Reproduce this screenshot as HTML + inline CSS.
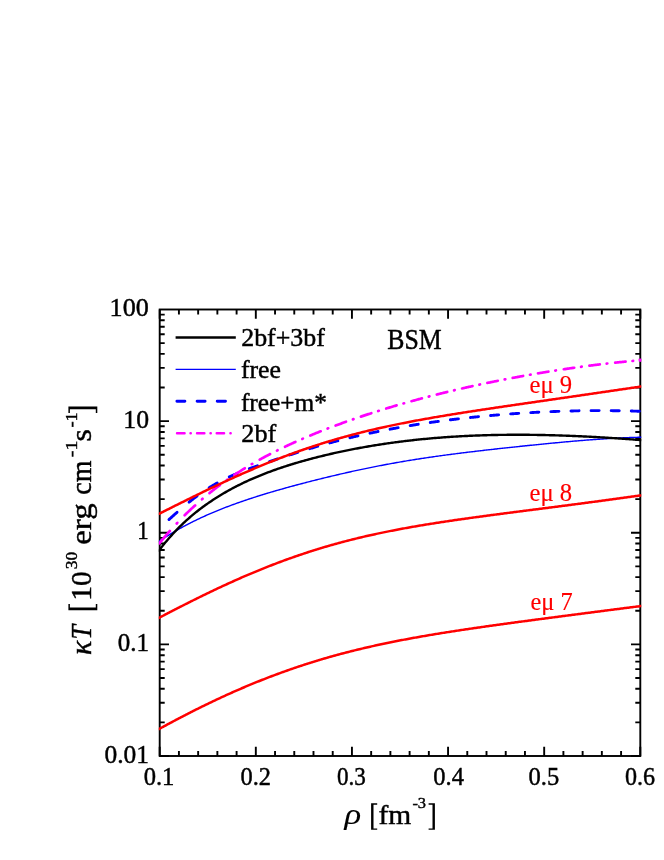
<!DOCTYPE html>
<html><head><meta charset="utf-8"><title>chart</title>
<style>html,body{margin:0;padding:0;background:#fff}svg{display:block;will-change:transform}</style></head>
<body>
<svg width="664" height="860" viewBox="0 0 664 860" font-family="Liberation Serif, serif">
<rect width="664" height="860" fill="#fff"/>
<rect x="159.7" y="309.5" width="480.59999999999997" height="446.5" fill="none" stroke="#000" stroke-width="1.9"/>
<path d="M159.70,756.0v-9.3M159.70,309.5v9.3M178.92,756.0v-5.0M178.92,309.5v5.0M198.15,756.0v-5.0M198.15,309.5v5.0M217.37,756.0v-5.0M217.37,309.5v5.0M236.60,756.0v-5.0M236.60,309.5v5.0M255.82,756.0v-9.3M255.82,309.5v9.3M275.04,756.0v-5.0M275.04,309.5v5.0M294.27,756.0v-5.0M294.27,309.5v5.0M313.49,756.0v-5.0M313.49,309.5v5.0M332.72,756.0v-5.0M332.72,309.5v5.0M351.94,756.0v-9.3M351.94,309.5v9.3M371.16,756.0v-5.0M371.16,309.5v5.0M390.39,756.0v-5.0M390.39,309.5v5.0M409.61,756.0v-5.0M409.61,309.5v5.0M428.84,756.0v-5.0M428.84,309.5v5.0M448.06,756.0v-9.3M448.06,309.5v9.3M467.28,756.0v-5.0M467.28,309.5v5.0M486.51,756.0v-5.0M486.51,309.5v5.0M505.73,756.0v-5.0M505.73,309.5v5.0M524.96,756.0v-5.0M524.96,309.5v5.0M544.18,756.0v-9.3M544.18,309.5v9.3M563.40,756.0v-5.0M563.40,309.5v5.0M582.63,756.0v-5.0M582.63,309.5v5.0M601.85,756.0v-5.0M601.85,309.5v5.0M621.08,756.0v-5.0M621.08,309.5v5.0M640.30,756.0v-9.3M640.30,309.5v9.3M159.7,756.00h9.3M640.3,756.00h-9.3M159.7,722.40h5.0M640.3,722.40h-5.0M159.7,702.74h5.0M640.3,702.74h-5.0M159.7,688.80h5.0M640.3,688.80h-5.0M159.7,677.98h5.0M640.3,677.98h-5.0M159.7,669.14h5.0M640.3,669.14h-5.0M159.7,661.67h5.0M640.3,661.67h-5.0M159.7,655.19h5.0M640.3,655.19h-5.0M159.7,649.48h5.0M640.3,649.48h-5.0M159.7,644.38h9.3M640.3,644.38h-9.3M159.7,610.77h5.0M640.3,610.77h-5.0M159.7,591.12h5.0M640.3,591.12h-5.0M159.7,577.17h5.0M640.3,577.17h-5.0M159.7,566.35h5.0M640.3,566.35h-5.0M159.7,557.51h5.0M640.3,557.51h-5.0M159.7,550.04h5.0M640.3,550.04h-5.0M159.7,543.57h5.0M640.3,543.57h-5.0M159.7,537.86h5.0M640.3,537.86h-5.0M159.7,532.75h9.3M640.3,532.75h-9.3M159.7,499.15h5.0M640.3,499.15h-5.0M159.7,479.49h5.0M640.3,479.49h-5.0M159.7,465.55h5.0M640.3,465.55h-5.0M159.7,454.73h5.0M640.3,454.73h-5.0M159.7,445.89h5.0M640.3,445.89h-5.0M159.7,438.42h5.0M640.3,438.42h-5.0M159.7,431.94h5.0M640.3,431.94h-5.0M159.7,426.23h5.0M640.3,426.23h-5.0M159.7,421.12h9.3M640.3,421.12h-9.3M159.7,387.52h5.0M640.3,387.52h-5.0M159.7,367.87h5.0M640.3,367.87h-5.0M159.7,353.92h5.0M640.3,353.92h-5.0M159.7,343.10h5.0M640.3,343.10h-5.0M159.7,334.26h5.0M640.3,334.26h-5.0M159.7,326.79h5.0M640.3,326.79h-5.0M159.7,320.32h5.0M640.3,320.32h-5.0M159.7,314.61h5.0M640.3,314.61h-5.0" stroke="#000" stroke-width="1.9" fill="none"/>
<clipPath id="c"><rect x="158.79999999999998" y="309.5" width="482.49999999999994" height="446.5"/></clipPath>
<g clip-path="url(#c)">
<path d="M158.20,541.92 L159.41,541.10 L160.62,540.29 L161.84,539.49 L163.05,538.70 L164.26,537.91 L165.47,537.14 L166.68,536.37 L167.90,535.61 L169.11,534.86 L170.32,534.12 L171.53,533.39 L172.74,532.67 L173.96,531.95 L175.17,531.24 L176.38,530.54 L177.59,529.84 L178.80,529.16 L180.02,528.48 L181.23,527.81 L182.44,527.14 L183.65,526.49 L184.86,525.84 L186.08,525.19 L187.29,524.56 L188.50,523.93 L189.71,523.30 L190.92,522.69 L192.14,522.08 L193.35,521.47 L194.56,520.87 L195.77,520.28 L196.98,519.70 L198.20,519.12 L199.41,518.54 L200.62,517.97 L201.83,517.41 L203.05,516.85 L204.26,516.30 L205.47,515.76 L206.68,515.22 L207.89,514.68 L209.11,514.15 L210.32,513.62 L211.53,513.10 L212.74,512.59 L213.95,512.08 L215.17,511.57 L216.38,511.07 L217.59,510.57 L218.80,510.08 L220.01,509.59 L221.23,509.11 L222.44,508.63 L223.65,508.15 L224.86,507.68 L226.07,507.22 L227.29,506.75 L228.50,506.29 L229.71,505.84 L230.92,505.39 L232.13,504.94 L233.35,504.49 L234.56,504.05 L235.77,503.62 L236.98,503.18 L238.19,502.75 L239.41,502.33 L240.62,501.90 L241.83,501.48 L243.04,501.06 L244.25,500.65 L245.47,500.24 L246.68,499.83 L247.89,499.42 L249.10,499.02 L250.31,498.62 L251.53,498.22 L252.74,497.83 L253.95,497.44 L255.16,497.05 L256.37,496.66 L257.59,496.28 L258.80,495.90 L260.01,495.52 L261.22,495.14 L262.43,494.77 L263.65,494.39 L264.86,494.02 L266.07,493.65 L267.28,493.29 L268.49,492.92 L269.71,492.56 L270.92,492.20 L272.13,491.85 L273.34,491.49 L274.55,491.14 L275.77,490.78 L276.98,490.43 L278.19,490.08 L279.40,489.74 L280.62,489.39 L281.83,489.05 L283.04,488.71 L284.25,488.37 L285.46,488.03 L286.68,487.69 L287.89,487.36 L289.10,487.02 L290.31,486.69 L291.52,486.36 L292.74,486.03 L293.95,485.70 L295.16,485.38 L296.37,485.05 L297.58,484.73 L298.80,484.41 L300.01,484.08 L301.22,483.76 L302.43,483.45 L303.64,483.13 L304.86,482.81 L306.07,482.50 L307.28,482.19 L308.49,481.87 L309.70,481.56 L310.92,481.25 L312.13,480.94 L313.34,480.64 L314.55,480.33 L315.76,480.03 L316.98,479.72 L318.19,479.42 L319.40,479.12 L320.61,478.82 L321.82,478.52 L323.04,478.22 L324.25,477.92 L325.46,477.63 L326.67,477.34 L327.88,477.04 L329.10,476.75 L330.31,476.46 L331.52,476.17 L332.73,475.88 L333.94,475.59 L335.16,475.31 L336.37,475.02 L337.58,474.74 L338.79,474.46 L340.00,474.18 L341.22,473.90 L342.43,473.62 L343.64,473.34 L344.85,473.07 L346.06,472.79 L347.28,472.52 L348.49,472.25 L349.70,471.97 L350.91,471.71 L352.12,471.44 L353.34,471.17 L354.55,470.91 L355.76,470.64 L356.97,470.38 L358.18,470.12 L359.40,469.86 L360.61,469.60 L361.82,469.35 L363.03,469.09 L364.25,468.84 L365.46,468.58 L366.67,468.33 L367.88,468.08 L369.09,467.84 L370.31,467.59 L371.52,467.34 L372.73,467.10 L373.94,466.86 L375.15,466.62 L376.37,466.38 L377.58,466.14 L378.79,465.91 L380.00,465.67 L381.21,465.44 L382.43,465.21 L383.64,464.98 L384.85,464.75 L386.06,464.52 L387.27,464.29 L388.49,464.07 L389.70,463.85 L390.91,463.63 L392.12,463.41 L393.33,463.19 L394.55,462.97 L395.76,462.76 L396.97,462.54 L398.18,462.33 L399.39,462.12 L400.61,461.91 L401.82,461.70 L403.03,461.49 L404.24,461.29 L405.45,461.09 L406.67,460.88 L407.88,460.68 L409.09,460.48 L410.30,460.28 L411.51,460.09 L412.73,459.89 L413.94,459.70 L415.15,459.51 L416.36,459.31 L417.57,459.12 L418.79,458.94 L420.00,458.75 L421.21,458.56 L422.42,458.38 L423.63,458.19 L424.85,458.01 L426.06,457.83 L427.27,457.65 L428.48,457.47 L429.69,457.29 L430.91,457.12 L432.12,456.94 L433.33,456.77 L434.54,456.60 L435.75,456.42 L436.97,456.25 L438.18,456.09 L439.39,455.92 L440.60,455.75 L441.82,455.58 L443.03,455.42 L444.24,455.25 L445.45,455.09 L446.66,454.93 L447.88,454.77 L449.09,454.61 L450.30,454.45 L451.51,454.29 L452.72,454.13 L453.94,453.97 L455.15,453.82 L456.36,453.66 L457.57,453.51 L458.78,453.36 L460.00,453.20 L461.21,453.05 L462.42,452.90 L463.63,452.75 L464.84,452.60 L466.06,452.45 L467.27,452.30 L468.48,452.16 L469.69,452.01 L470.90,451.86 L472.12,451.72 L473.33,451.57 L474.54,451.43 L475.75,451.28 L476.96,451.14 L478.18,451.00 L479.39,450.86 L480.60,450.72 L481.81,450.58 L483.02,450.44 L484.24,450.30 L485.45,450.16 L486.66,450.02 L487.87,449.88 L489.08,449.74 L490.30,449.61 L491.51,449.47 L492.72,449.33 L493.93,449.20 L495.14,449.06 L496.36,448.93 L497.57,448.80 L498.78,448.66 L499.99,448.53 L501.20,448.40 L502.42,448.26 L503.63,448.13 L504.84,448.00 L506.05,447.87 L507.26,447.74 L508.48,447.61 L509.69,447.48 L510.90,447.35 L512.11,447.22 L513.32,447.09 L514.54,446.96 L515.75,446.83 L516.96,446.70 L518.17,446.58 L519.38,446.45 L520.60,446.32 L521.81,446.20 L523.02,446.07 L524.23,445.95 L525.45,445.82 L526.66,445.70 L527.87,445.57 L529.08,445.45 L530.29,445.32 L531.51,445.20 L532.72,445.08 L533.93,444.95 L535.14,444.83 L536.35,444.71 L537.57,444.59 L538.78,444.47 L539.99,444.35 L541.20,444.23 L542.41,444.11 L543.63,443.99 L544.84,443.87 L546.05,443.75 L547.26,443.63 L548.47,443.51 L549.69,443.40 L550.90,443.28 L552.11,443.16 L553.32,443.05 L554.53,442.93 L555.75,442.82 L556.96,442.70 L558.17,442.59 L559.38,442.48 L560.59,442.37 L561.81,442.25 L563.02,442.14 L564.23,442.03 L565.44,441.92 L566.65,441.81 L567.87,441.70 L569.08,441.60 L570.29,441.49 L571.50,441.38 L572.71,441.28 L573.93,441.17 L575.14,441.07 L576.35,440.96 L577.56,440.86 L578.77,440.76 L579.99,440.66 L581.20,440.56 L582.41,440.46 L583.62,440.36 L584.83,440.26 L586.05,440.17 L587.26,440.07 L588.47,439.98 L589.68,439.88 L590.89,439.79 L592.11,439.70 L593.32,439.61 L594.53,439.52 L595.74,439.43 L596.95,439.35 L598.17,439.26 L599.38,439.18 L600.59,439.09 L601.80,439.01 L603.02,438.93 L604.23,438.85 L605.44,438.77 L606.65,438.70 L607.86,438.62 L609.08,438.55 L610.29,438.48 L611.50,438.41 L612.71,438.34 L613.92,438.27 L615.14,438.20 L616.35,438.14 L617.56,438.08 L618.77,438.02 L619.98,437.96 L621.20,437.90 L622.41,437.85 L623.62,437.79 L624.83,437.74 L626.04,437.69 L627.26,437.65 L628.47,437.60 L629.68,437.56 L630.89,437.52 L632.10,437.48 L633.32,437.44 L634.53,437.40 L635.74,437.37 L636.95,437.34 L638.16,437.31 L639.38,437.29 L640.59,437.26 L641.80,437.24" fill="none" stroke="#0000ff" stroke-width="1.4" stroke-linejoin="round"/>
<path d="M158.20,551.63 L159.41,550.02 L160.62,548.43 L161.84,546.87 L163.05,545.34 L164.26,543.84 L165.47,542.36 L166.68,540.91 L167.90,539.48 L169.11,538.08 L170.32,536.70 L171.53,535.34 L172.74,534.01 L173.96,532.70 L175.17,531.41 L176.38,530.14 L177.59,528.90 L178.80,527.67 L180.02,526.46 L181.23,525.28 L182.44,524.11 L183.65,522.96 L184.86,521.83 L186.08,520.72 L187.29,519.62 L188.50,518.55 L189.71,517.49 L190.92,516.44 L192.14,515.42 L193.35,514.40 L194.56,513.41 L195.77,512.42 L196.98,511.46 L198.20,510.50 L199.41,509.57 L200.62,508.64 L201.83,507.73 L203.05,506.83 L204.26,505.95 L205.47,505.07 L206.68,504.21 L207.89,503.36 L209.11,502.53 L210.32,501.70 L211.53,500.89 L212.74,500.08 L213.95,499.29 L215.17,498.51 L216.38,497.74 L217.59,496.98 L218.80,496.23 L220.01,495.48 L221.23,494.75 L222.44,494.03 L223.65,493.32 L224.86,492.61 L226.07,491.91 L227.29,491.23 L228.50,490.55 L229.71,489.88 L230.92,489.22 L232.13,488.56 L233.35,487.92 L234.56,487.28 L235.77,486.65 L236.98,486.03 L238.19,485.42 L239.41,484.81 L240.62,484.21 L241.83,483.62 L243.04,483.03 L244.25,482.46 L245.47,481.88 L246.68,481.32 L247.89,480.76 L249.10,480.21 L250.31,479.67 L251.53,479.13 L252.74,478.60 L253.95,478.07 L255.16,477.55 L256.37,477.04 L257.59,476.53 L258.80,476.03 L260.01,475.53 L261.22,475.04 L262.43,474.56 L263.65,474.08 L264.86,473.61 L266.07,473.14 L267.28,472.67 L268.49,472.22 L269.71,471.76 L270.92,471.31 L272.13,470.87 L273.34,470.43 L274.55,470.00 L275.77,469.57 L276.98,469.14 L278.19,468.72 L279.40,468.31 L280.62,467.90 L281.83,467.49 L283.04,467.09 L284.25,466.69 L285.46,466.29 L286.68,465.90 L287.89,465.51 L289.10,465.13 L290.31,464.75 L291.52,464.37 L292.74,464.00 L293.95,463.63 L295.16,463.27 L296.37,462.91 L297.58,462.55 L298.80,462.20 L300.01,461.85 L301.22,461.50 L302.43,461.15 L303.64,460.81 L304.86,460.47 L306.07,460.14 L307.28,459.81 L308.49,459.48 L309.70,459.15 L310.92,458.83 L312.13,458.51 L313.34,458.19 L314.55,457.88 L315.76,457.56 L316.98,457.26 L318.19,456.95 L319.40,456.65 L320.61,456.35 L321.82,456.05 L323.04,455.75 L324.25,455.46 L325.46,455.17 L326.67,454.88 L327.88,454.59 L329.10,454.31 L330.31,454.03 L331.52,453.75 L332.73,453.48 L333.94,453.20 L335.16,452.93 L336.37,452.67 L337.58,452.40 L338.79,452.14 L340.00,451.87 L341.22,451.62 L342.43,451.36 L343.64,451.11 L344.85,450.85 L346.06,450.60 L347.28,450.36 L348.49,450.11 L349.70,449.87 L350.91,449.63 L352.12,449.39 L353.34,449.15 L354.55,448.92 L355.76,448.69 L356.97,448.46 L358.18,448.23 L359.40,448.01 L360.61,447.78 L361.82,447.56 L363.03,447.35 L364.25,447.13 L365.46,446.92 L366.67,446.70 L367.88,446.50 L369.09,446.29 L370.31,446.08 L371.52,445.88 L372.73,445.68 L373.94,445.48 L375.15,445.28 L376.37,445.09 L377.58,444.90 L378.79,444.71 L380.00,444.52 L381.21,444.33 L382.43,444.15 L383.64,443.96 L384.85,443.78 L386.06,443.61 L387.27,443.43 L388.49,443.26 L389.70,443.08 L390.91,442.91 L392.12,442.75 L393.33,442.58 L394.55,442.42 L395.76,442.25 L396.97,442.09 L398.18,441.94 L399.39,441.78 L400.61,441.63 L401.82,441.47 L403.03,441.32 L404.24,441.18 L405.45,441.03 L406.67,440.88 L407.88,440.74 L409.09,440.60 L410.30,440.46 L411.51,440.33 L412.73,440.19 L413.94,440.06 L415.15,439.93 L416.36,439.80 L417.57,439.67 L418.79,439.54 L420.00,439.42 L421.21,439.30 L422.42,439.18 L423.63,439.06 L424.85,438.94 L426.06,438.83 L427.27,438.71 L428.48,438.60 L429.69,438.49 L430.91,438.38 L432.12,438.28 L433.33,438.17 L434.54,438.07 L435.75,437.97 L436.97,437.87 L438.18,437.77 L439.39,437.68 L440.60,437.58 L441.82,437.49 L443.03,437.40 L444.24,437.31 L445.45,437.22 L446.66,437.14 L447.88,437.05 L449.09,436.97 L450.30,436.89 L451.51,436.81 L452.72,436.73 L453.94,436.66 L455.15,436.58 L456.36,436.51 L457.57,436.44 L458.78,436.37 L460.00,436.30 L461.21,436.24 L462.42,436.17 L463.63,436.11 L464.84,436.05 L466.06,435.99 L467.27,435.93 L468.48,435.87 L469.69,435.82 L470.90,435.76 L472.12,435.71 L473.33,435.66 L474.54,435.61 L475.75,435.56 L476.96,435.51 L478.18,435.47 L479.39,435.43 L480.60,435.38 L481.81,435.34 L483.02,435.30 L484.24,435.27 L485.45,435.23 L486.66,435.19 L487.87,435.16 L489.08,435.13 L490.30,435.10 L491.51,435.07 L492.72,435.04 L493.93,435.02 L495.14,434.99 L496.36,434.97 L497.57,434.94 L498.78,434.92 L499.99,434.90 L501.20,434.89 L502.42,434.87 L503.63,434.85 L504.84,434.84 L506.05,434.83 L507.26,434.81 L508.48,434.80 L509.69,434.79 L510.90,434.79 L512.11,434.78 L513.32,434.77 L514.54,434.77 L515.75,434.77 L516.96,434.77 L518.17,434.77 L519.38,434.77 L520.60,434.77 L521.81,434.77 L523.02,434.78 L524.23,434.78 L525.45,434.79 L526.66,434.80 L527.87,434.81 L529.08,434.82 L530.29,434.83 L531.51,434.85 L532.72,434.86 L533.93,434.87 L535.14,434.89 L536.35,434.91 L537.57,434.93 L538.78,434.95 L539.99,434.97 L541.20,434.99 L542.41,435.02 L543.63,435.04 L544.84,435.07 L546.05,435.09 L547.26,435.12 L548.47,435.15 L549.69,435.18 L550.90,435.21 L552.11,435.24 L553.32,435.28 L554.53,435.31 L555.75,435.35 L556.96,435.38 L558.17,435.42 L559.38,435.46 L560.59,435.50 L561.81,435.54 L563.02,435.58 L564.23,435.62 L565.44,435.67 L566.65,435.71 L567.87,435.76 L569.08,435.80 L570.29,435.85 L571.50,435.90 L572.71,435.95 L573.93,436.00 L575.14,436.05 L576.35,436.10 L577.56,436.15 L578.77,436.21 L579.99,436.26 L581.20,436.32 L582.41,436.38 L583.62,436.43 L584.83,436.49 L586.05,436.55 L587.26,436.61 L588.47,436.67 L589.68,436.74 L590.89,436.80 L592.11,436.86 L593.32,436.93 L594.53,436.99 L595.74,437.06 L596.95,437.13 L598.17,437.20 L599.38,437.27 L600.59,437.34 L601.80,437.41 L603.02,437.48 L604.23,437.55 L605.44,437.62 L606.65,437.70 L607.86,437.77 L609.08,437.85 L610.29,437.92 L611.50,438.00 L612.71,438.08 L613.92,438.16 L615.14,438.24 L616.35,438.32 L617.56,438.40 L618.77,438.48 L619.98,438.56 L621.20,438.64 L622.41,438.73 L623.62,438.81 L624.83,438.90 L626.04,438.98 L627.26,439.07 L628.47,439.16 L629.68,439.24 L630.89,439.33 L632.10,439.42 L633.32,439.51 L634.53,439.60 L635.74,439.69 L636.95,439.79 L638.16,439.88 L639.38,439.97 L640.59,440.07 L641.80,440.16" fill="none" stroke="#000" stroke-width="2.4" stroke-linejoin="round"/>
<path d="M168.96,519.56 L169.69,518.89 L170.43,518.23 L171.16,517.56 L171.90,516.90 L172.63,516.24 L173.37,515.58 L174.10,514.92 L174.84,514.27 L175.57,513.62 L176.31,512.96 L177.04,512.32" fill="none" stroke="#0000ff" stroke-width="2.9" stroke-linecap="round"/>
<path d="M189.06,502.16 L189.79,501.57 L190.53,500.99 L191.26,500.41 L192.00,499.83 L192.73,499.26 L193.47,498.70 L194.20,498.13 L194.94,497.58 L195.67,497.02 L196.41,496.48 L197.14,495.93" fill="none" stroke="#0000ff" stroke-width="2.9" stroke-linecap="round"/>
<path d="M209.16,487.73 L209.89,487.27 L210.63,486.82 L211.36,486.37 L212.10,485.93 L212.83,485.49 L213.57,485.06 L214.30,484.63 L215.04,484.20 L215.77,483.78 L216.51,483.37 L217.24,482.96" fill="none" stroke="#0000ff" stroke-width="2.9" stroke-linecap="round"/>
<path d="M229.26,476.89 L229.99,476.56 L230.73,476.23 L231.46,475.90 L232.20,475.57 L232.93,475.25 L233.67,474.93 L234.40,474.62 L235.14,474.31 L235.87,474.00 L236.61,473.69 L237.34,473.39" fill="none" stroke="#0000ff" stroke-width="2.9" stroke-linecap="round"/>
<path d="M249.36,468.73 L250.09,468.46 L250.83,468.19 L251.56,467.93 L252.30,467.66 L253.03,467.39 L253.77,467.13 L254.50,466.87 L255.24,466.61 L255.97,466.35 L256.71,466.09 L257.44,465.83" fill="none" stroke="#0000ff" stroke-width="2.9" stroke-linecap="round"/>
<path d="M269.46,461.68 L270.19,461.43 L270.93,461.18 L271.66,460.93 L272.40,460.68 L273.13,460.43 L273.87,460.19 L274.60,459.94 L275.34,459.69 L276.07,459.44 L276.81,459.20 L277.54,458.95" fill="none" stroke="#0000ff" stroke-width="2.9" stroke-linecap="round"/>
<path d="M289.56,454.97 L290.29,454.73 L291.03,454.50 L291.76,454.26 L292.50,454.02 L293.23,453.78 L293.97,453.55 L294.70,453.31 L295.44,453.08 L296.17,452.84 L296.91,452.61 L297.64,452.38" fill="none" stroke="#0000ff" stroke-width="2.9" stroke-linecap="round"/>
<path d="M309.66,448.66 L310.39,448.44 L311.13,448.22 L311.86,448.00 L312.60,447.78 L313.33,447.56 L314.07,447.34 L314.80,447.13 L315.54,446.91 L316.27,446.70 L317.01,446.48 L317.74,446.27" fill="none" stroke="#0000ff" stroke-width="2.9" stroke-linecap="round"/>
<path d="M329.76,442.90 L330.49,442.70 L331.23,442.50 L331.96,442.30 L332.70,442.11 L333.43,441.91 L334.17,441.72 L334.90,441.52 L335.64,441.33 L336.37,441.14 L337.11,440.95 L337.84,440.76" fill="none" stroke="#0000ff" stroke-width="2.9" stroke-linecap="round"/>
<path d="M349.86,437.75 L350.59,437.58 L351.33,437.40 L352.06,437.22 L352.80,437.05 L353.53,436.88 L354.27,436.70 L355.00,436.53 L355.74,436.36 L356.47,436.19 L357.21,436.02 L357.94,435.85" fill="none" stroke="#0000ff" stroke-width="2.9" stroke-linecap="round"/>
<path d="M369.96,433.19 L370.69,433.03 L371.43,432.88 L372.16,432.72 L372.90,432.57 L373.63,432.42 L374.37,432.26 L375.10,432.11 L375.84,431.96 L376.57,431.81 L377.31,431.66 L378.04,431.51" fill="none" stroke="#0000ff" stroke-width="2.9" stroke-linecap="round"/>
<path d="M390.06,429.16 L390.79,429.02 L391.53,428.88 L392.26,428.75 L393.00,428.61 L393.73,428.48 L394.47,428.34 L395.20,428.21 L395.94,428.07 L396.67,427.94 L397.41,427.81 L398.14,427.68" fill="none" stroke="#0000ff" stroke-width="2.9" stroke-linecap="round"/>
<path d="M410.16,425.61 L410.89,425.49 L411.63,425.37 L412.36,425.25 L413.10,425.13 L413.83,425.01 L414.57,424.89 L415.30,424.78 L416.04,424.66 L416.77,424.54 L417.51,424.43 L418.24,424.31" fill="none" stroke="#0000ff" stroke-width="2.9" stroke-linecap="round"/>
<path d="M430.26,422.51 L430.99,422.40 L431.73,422.30 L432.46,422.19 L433.20,422.09 L433.93,421.99 L434.67,421.88 L435.40,421.78 L436.14,421.68 L436.87,421.58 L437.61,421.48 L438.34,421.38" fill="none" stroke="#0000ff" stroke-width="2.9" stroke-linecap="round"/>
<path d="M450.36,419.81 L451.09,419.72 L451.83,419.63 L452.56,419.54 L453.30,419.45 L454.03,419.36 L454.77,419.27 L455.50,419.19 L456.24,419.10 L456.97,419.01 L457.71,418.92 L458.44,418.84" fill="none" stroke="#0000ff" stroke-width="2.9" stroke-linecap="round"/>
<path d="M470.46,417.50 L471.19,417.42 L471.93,417.34 L472.66,417.27 L473.40,417.19 L474.13,417.11 L474.87,417.04 L475.60,416.96 L476.34,416.89 L477.07,416.82 L477.81,416.74 L478.54,416.67" fill="none" stroke="#0000ff" stroke-width="2.9" stroke-linecap="round"/>
<path d="M490.56,415.54 L491.29,415.47 L492.03,415.41 L492.76,415.35 L493.50,415.28 L494.23,415.22 L494.97,415.16 L495.70,415.09 L496.44,415.03 L497.17,414.97 L497.91,414.91 L498.64,414.85" fill="none" stroke="#0000ff" stroke-width="2.9" stroke-linecap="round"/>
<path d="M510.66,413.92 L511.39,413.87 L512.13,413.81 L512.86,413.76 L513.60,413.71 L514.33,413.66 L515.07,413.61 L515.80,413.56 L516.54,413.51 L517.27,413.46 L518.01,413.41 L518.74,413.36" fill="none" stroke="#0000ff" stroke-width="2.9" stroke-linecap="round"/>
<path d="M530.76,412.62 L531.49,412.58 L532.23,412.54 L532.96,412.50 L533.70,412.46 L534.43,412.42 L535.17,412.38 L535.90,412.34 L536.64,412.31 L537.37,412.27 L538.11,412.23 L538.84,412.19" fill="none" stroke="#0000ff" stroke-width="2.9" stroke-linecap="round"/>
<path d="M550.86,411.65 L551.59,411.62 L552.33,411.59 L553.06,411.56 L553.80,411.53 L554.53,411.51 L555.27,411.48 L556.00,411.45 L556.74,411.42 L557.47,411.40 L558.21,411.37 L558.94,411.35" fill="none" stroke="#0000ff" stroke-width="2.9" stroke-linecap="round"/>
<path d="M570.96,410.99 L571.69,410.98 L572.43,410.96 L573.16,410.94 L573.90,410.92 L574.63,410.91 L575.37,410.89 L576.10,410.88 L576.84,410.86 L577.57,410.85 L578.31,410.83 L579.04,410.82" fill="none" stroke="#0000ff" stroke-width="2.9" stroke-linecap="round"/>
<path d="M591.06,410.66 L591.79,410.66 L592.53,410.65 L593.26,410.65 L594.00,410.64 L594.73,410.64 L595.47,410.63 L596.20,410.63 L596.94,410.63 L597.67,410.63 L598.41,410.62 L599.14,410.62" fill="none" stroke="#0000ff" stroke-width="2.9" stroke-linecap="round"/>
<path d="M611.16,410.67 L611.89,410.67 L612.63,410.68 L613.36,410.69 L614.10,410.70 L614.83,410.70 L615.57,410.71 L616.30,410.72 L617.04,410.73 L617.77,410.74 L618.51,410.75 L619.24,410.77" fill="none" stroke="#0000ff" stroke-width="2.9" stroke-linecap="round"/>
<path d="M631.26,411.02 L631.99,411.04 L632.73,411.06 L633.46,411.08 L634.20,411.11 L634.93,411.13 L635.67,411.15 L636.40,411.17 L637.14,411.20 L637.87,411.22 L638.61,411.24 L639.34,411.27" fill="none" stroke="#0000ff" stroke-width="2.9" stroke-linecap="round"/>
<path d="M159.38,543.29 L160.13,542.37 L160.87,541.46 L161.62,540.56 L162.36,539.66 L163.11,538.77 L163.85,537.88 L164.60,537.00 L165.35,536.12 L166.09,535.25 L166.84,534.39 L167.58,533.53 L168.33,532.68 L169.07,531.83 L169.82,530.99" fill="none" stroke="#ff00ff" stroke-width="2.7" stroke-linecap="round"/>
<path d="M176.68,523.49 L177.32,522.81" fill="none" stroke="#ff00ff" stroke-width="2.7" stroke-linecap="round"/>
<path d="M184.68,515.28 L185.43,514.55 L186.17,513.81 L186.92,513.09 L187.66,512.37 L188.41,511.65 L189.15,510.93 L189.90,510.22 L190.65,509.52 L191.39,508.82 L192.14,508.12 L192.88,507.43 L193.63,506.75 L194.37,506.06 L195.12,505.39" fill="none" stroke="#ff00ff" stroke-width="2.7" stroke-linecap="round"/>
<path d="M201.98,499.34 L202.62,498.79" fill="none" stroke="#ff00ff" stroke-width="2.7" stroke-linecap="round"/>
<path d="M209.48,493.11 L210.23,492.51 L210.97,491.92 L211.72,491.33 L212.46,490.74 L213.21,490.16 L213.95,489.58 L214.70,489.00 L215.45,488.43 L216.19,487.86 L216.94,487.29 L217.68,486.72 L218.43,486.16 L219.17,485.61 L219.92,485.05" fill="none" stroke="#ff00ff" stroke-width="2.7" stroke-linecap="round"/>
<path d="M226.78,480.11 L227.42,479.67" fill="none" stroke="#ff00ff" stroke-width="2.7" stroke-linecap="round"/>
<path d="M234.38,474.94 L235.13,474.45 L235.87,473.96 L236.62,473.47 L237.36,472.99 L238.11,472.51 L238.85,472.03 L239.60,471.55 L240.35,471.08 L241.09,470.61 L241.84,470.14 L242.58,469.67 L243.33,469.21 L244.07,468.75 L244.82,468.29" fill="none" stroke="#ff00ff" stroke-width="2.7" stroke-linecap="round"/>
<path d="M251.68,464.19 L252.32,463.82" fill="none" stroke="#ff00ff" stroke-width="2.7" stroke-linecap="round"/>
<path d="M259.68,459.65 L260.43,459.24 L261.17,458.83 L261.92,458.42 L262.66,458.02 L263.41,457.61 L264.15,457.21 L264.90,456.81 L265.65,456.41 L266.39,456.02 L267.14,455.63 L267.88,455.23 L268.63,454.84 L269.37,454.46 L270.12,454.07" fill="none" stroke="#ff00ff" stroke-width="2.7" stroke-linecap="round"/>
<path d="M276.98,450.60 L277.62,450.28" fill="none" stroke="#ff00ff" stroke-width="2.7" stroke-linecap="round"/>
<path d="M284.98,446.72 L285.73,446.37 L286.47,446.02 L287.22,445.67 L287.96,445.32 L288.71,444.98 L289.45,444.63 L290.20,444.29 L290.95,443.95 L291.69,443.61 L292.44,443.27 L293.18,442.93 L293.93,442.59 L294.67,442.26 L295.42,441.92" fill="none" stroke="#ff00ff" stroke-width="2.7" stroke-linecap="round"/>
<path d="M302.28,438.91 L302.92,438.63" fill="none" stroke="#ff00ff" stroke-width="2.7" stroke-linecap="round"/>
<path d="M310.28,435.52 L311.03,435.21 L311.77,434.90 L312.52,434.59 L313.26,434.28 L314.01,433.98 L314.75,433.67 L315.50,433.37 L316.25,433.07 L316.99,432.77 L317.74,432.47 L318.48,432.17 L319.23,431.87 L319.97,431.57 L320.72,431.28" fill="none" stroke="#ff00ff" stroke-width="2.7" stroke-linecap="round"/>
<path d="M327.58,428.60 L328.22,428.35" fill="none" stroke="#ff00ff" stroke-width="2.7" stroke-linecap="round"/>
<path d="M335.58,425.57 L336.33,425.29 L337.07,425.02 L337.82,424.74 L338.56,424.47 L339.31,424.19 L340.05,423.92 L340.80,423.65 L341.55,423.37 L342.29,423.10 L343.04,422.83 L343.78,422.57 L344.53,422.30 L345.27,422.03 L346.02,421.76" fill="none" stroke="#ff00ff" stroke-width="2.7" stroke-linecap="round"/>
<path d="M352.88,419.35 L353.52,419.13" fill="none" stroke="#ff00ff" stroke-width="2.7" stroke-linecap="round"/>
<path d="M360.88,416.62 L361.63,416.37 L362.37,416.12 L363.12,415.87 L363.86,415.62 L364.61,415.38 L365.35,415.13 L366.10,414.88 L366.85,414.64 L367.59,414.40 L368.34,414.15 L369.08,413.91 L369.83,413.67 L370.57,413.43 L371.32,413.18" fill="none" stroke="#ff00ff" stroke-width="2.7" stroke-linecap="round"/>
<path d="M378.18,411.00 L378.82,410.80" fill="none" stroke="#ff00ff" stroke-width="2.7" stroke-linecap="round"/>
<path d="M386.18,408.53 L386.93,408.31 L387.67,408.08 L388.42,407.85 L389.16,407.63 L389.91,407.41 L390.65,407.18 L391.40,406.96 L392.15,406.74 L392.89,406.52 L393.64,406.30 L394.38,406.08 L395.13,405.86 L395.87,405.64 L396.62,405.42" fill="none" stroke="#ff00ff" stroke-width="2.7" stroke-linecap="round"/>
<path d="M403.48,403.44 L404.12,403.26" fill="none" stroke="#ff00ff" stroke-width="2.7" stroke-linecap="round"/>
<path d="M411.48,401.20 L412.23,400.99 L412.97,400.79 L413.72,400.58 L414.46,400.38 L415.21,400.18 L415.95,399.97 L416.70,399.77 L417.45,399.57 L418.19,399.37 L418.94,399.17 L419.68,398.97 L420.43,398.77 L421.17,398.57 L421.92,398.37" fill="none" stroke="#ff00ff" stroke-width="2.7" stroke-linecap="round"/>
<path d="M428.78,396.57 L429.42,396.41" fill="none" stroke="#ff00ff" stroke-width="2.7" stroke-linecap="round"/>
<path d="M436.78,394.53 L437.53,394.34 L438.27,394.16 L439.02,393.97 L439.76,393.79 L440.51,393.60 L441.25,393.42 L442.00,393.23 L442.75,393.05 L443.49,392.87 L444.24,392.68 L444.98,392.50 L445.73,392.32 L446.47,392.14 L447.22,391.96" fill="none" stroke="#ff00ff" stroke-width="2.7" stroke-linecap="round"/>
<path d="M454.08,390.32 L454.72,390.17" fill="none" stroke="#ff00ff" stroke-width="2.7" stroke-linecap="round"/>
<path d="M462.08,388.46 L462.83,388.29 L463.57,388.12 L464.32,387.95 L465.06,387.78 L465.81,387.61 L466.55,387.44 L467.30,387.28 L468.05,387.11 L468.79,386.94 L469.54,386.78 L470.28,386.61 L471.03,386.45 L471.77,386.28 L472.52,386.12" fill="none" stroke="#ff00ff" stroke-width="2.7" stroke-linecap="round"/>
<path d="M479.38,384.62 L480.02,384.49" fill="none" stroke="#ff00ff" stroke-width="2.7" stroke-linecap="round"/>
<path d="M487.38,382.93 L488.13,382.78 L488.87,382.62 L489.62,382.47 L490.36,382.31 L491.11,382.16 L491.85,382.01 L492.60,381.85 L493.35,381.70 L494.09,381.55 L494.84,381.40 L495.58,381.25 L496.33,381.10 L497.07,380.95 L497.82,380.80" fill="none" stroke="#ff00ff" stroke-width="2.7" stroke-linecap="round"/>
<path d="M504.68,379.44 L505.32,379.32" fill="none" stroke="#ff00ff" stroke-width="2.7" stroke-linecap="round"/>
<path d="M512.68,377.91 L513.43,377.77 L514.17,377.63 L514.92,377.49 L515.66,377.35 L516.41,377.21 L517.15,377.07 L517.90,376.94 L518.65,376.80 L519.39,376.66 L520.14,376.52 L520.88,376.39 L521.63,376.25 L522.37,376.12 L523.12,375.98" fill="none" stroke="#ff00ff" stroke-width="2.7" stroke-linecap="round"/>
<path d="M529.98,374.76 L530.62,374.65" fill="none" stroke="#ff00ff" stroke-width="2.7" stroke-linecap="round"/>
<path d="M537.98,373.38 L538.73,373.25 L539.47,373.13 L540.22,373.00 L540.96,372.87 L541.71,372.75 L542.45,372.63 L543.20,372.50 L543.95,372.38 L544.69,372.26 L545.44,372.13 L546.18,372.01 L546.93,371.89 L547.67,371.77 L548.42,371.65" fill="none" stroke="#ff00ff" stroke-width="2.7" stroke-linecap="round"/>
<path d="M555.28,370.56 L555.92,370.46" fill="none" stroke="#ff00ff" stroke-width="2.7" stroke-linecap="round"/>
<path d="M563.78,369.26 L564.53,369.15 L565.27,369.04 L566.02,368.93 L566.76,368.82 L567.51,368.71 L568.25,368.60 L569.00,368.49 L569.75,368.38 L570.49,368.27 L571.24,368.16 L571.98,368.06 L572.73,367.95 L573.47,367.85 L574.22,367.74" fill="none" stroke="#ff00ff" stroke-width="2.7" stroke-linecap="round"/>
<path d="M581.08,366.79 L581.72,366.70" fill="none" stroke="#ff00ff" stroke-width="2.7" stroke-linecap="round"/>
<path d="M589.38,365.69 L590.13,365.60 L590.87,365.50 L591.62,365.41 L592.36,365.31 L593.11,365.22 L593.85,365.12 L594.60,365.03 L595.35,364.94 L596.09,364.85 L596.84,364.75 L597.58,364.66 L598.33,364.57 L599.07,364.48 L599.82,364.39" fill="none" stroke="#ff00ff" stroke-width="2.7" stroke-linecap="round"/>
<path d="M606.68,363.59 L607.32,363.52" fill="none" stroke="#ff00ff" stroke-width="2.7" stroke-linecap="round"/>
<path d="M615.18,362.66 L615.93,362.58 L616.67,362.50 L617.42,362.42 L618.16,362.35 L618.91,362.27 L619.65,362.19 L620.40,362.12 L621.15,362.04 L621.89,361.97 L622.64,361.89 L623.38,361.82 L624.13,361.75 L624.87,361.67 L625.62,361.60" fill="none" stroke="#ff00ff" stroke-width="2.7" stroke-linecap="round"/>
<path d="M632.48,360.97 L633.12,360.91" fill="none" stroke="#ff00ff" stroke-width="2.7" stroke-linecap="round"/>
<path d="M640.38,360.29 L641.80,360.18" fill="none" stroke="#ff00ff" stroke-width="2.7" stroke-linecap="round"/>
<path d="M638.6,360.2L641.5,359.9" stroke="#ff00ff" stroke-width="2.7"/>
<path d="M158.20,514.24 L159.41,513.63 L160.62,513.03 L161.84,512.42 L163.05,511.81 L164.26,511.20 L165.47,510.60 L166.68,509.99 L167.90,509.38 L169.11,508.78 L170.32,508.17 L171.53,507.56 L172.74,506.96 L173.96,506.35 L175.17,505.74 L176.38,505.14 L177.59,504.53 L178.80,503.93 L180.02,503.32 L181.23,502.72 L182.44,502.12 L183.65,501.52 L184.86,500.92 L186.08,500.31 L187.29,499.71 L188.50,499.11 L189.71,498.52 L190.92,497.92 L192.14,497.32 L193.35,496.73 L194.56,496.13 L195.77,495.54 L196.98,494.94 L198.20,494.35 L199.41,493.76 L200.62,493.17 L201.83,492.58 L203.05,491.99 L204.26,491.41 L205.47,490.82 L206.68,490.24 L207.89,489.66 L209.11,489.07 L210.32,488.49 L211.53,487.92 L212.74,487.34 L213.95,486.76 L215.17,486.19 L216.38,485.61 L217.59,485.04 L218.80,484.47 L220.01,483.90 L221.23,483.34 L222.44,482.77 L223.65,482.21 L224.86,481.65 L226.07,481.09 L227.29,480.53 L228.50,479.97 L229.71,479.42 L230.92,478.86 L232.13,478.31 L233.35,477.76 L234.56,477.21 L235.77,476.67 L236.98,476.12 L238.19,475.58 L239.41,475.04 L240.62,474.50 L241.83,473.96 L243.04,473.43 L244.25,472.90 L245.47,472.37 L246.68,471.84 L247.89,471.31 L249.10,470.79 L250.31,470.26 L251.53,469.74 L252.74,469.23 L253.95,468.71 L255.16,468.20 L256.37,467.68 L257.59,467.17 L258.80,466.67 L260.01,466.16 L261.22,465.66 L262.43,465.16 L263.65,464.66 L264.86,464.16 L266.07,463.67 L267.28,463.18 L268.49,462.69 L269.71,462.20 L270.92,461.72 L272.13,461.23 L273.34,460.75 L274.55,460.28 L275.77,459.80 L276.98,459.33 L278.19,458.86 L279.40,458.39 L280.62,457.92 L281.83,457.46 L283.04,457.00 L284.25,456.54 L285.46,456.08 L286.68,455.63 L287.89,455.18 L289.10,454.73 L290.31,454.28 L291.52,453.84 L292.74,453.40 L293.95,452.96 L295.16,452.52 L296.37,452.09 L297.58,451.66 L298.80,451.23 L300.01,450.80 L301.22,450.38 L302.43,449.96 L303.64,449.54 L304.86,449.12 L306.07,448.71 L307.28,448.30 L308.49,447.89 L309.70,447.48 L310.92,447.08 L312.13,446.67 L313.34,446.27 L314.55,445.88 L315.76,445.48 L316.98,445.09 L318.19,444.70 L319.40,444.32 L320.61,443.93 L321.82,443.55 L323.04,443.17 L324.25,442.80 L325.46,442.42 L326.67,442.05 L327.88,441.68 L329.10,441.31 L330.31,440.95 L331.52,440.59 L332.73,440.23 L333.94,439.87 L335.16,439.52 L336.37,439.16 L337.58,438.81 L338.79,438.47 L340.00,438.12 L341.22,437.78 L342.43,437.44 L343.64,437.10 L344.85,436.76 L346.06,436.43 L347.28,436.10 L348.49,435.77 L349.70,435.45 L350.91,435.12 L352.12,434.80 L353.34,434.48 L354.55,434.16 L355.76,433.85 L356.97,433.54 L358.18,433.23 L359.40,432.92 L360.61,432.61 L361.82,432.31 L363.03,432.01 L364.25,431.71 L365.46,431.41 L366.67,431.11 L367.88,430.82 L369.09,430.53 L370.31,430.24 L371.52,429.95 L372.73,429.67 L373.94,429.39 L375.15,429.11 L376.37,428.83 L377.58,428.55 L378.79,428.27 L380.00,428.00 L381.21,427.73 L382.43,427.46 L383.64,427.19 L384.85,426.93 L386.06,426.66 L387.27,426.40 L388.49,426.14 L389.70,425.88 L390.91,425.63 L392.12,425.37 L393.33,425.12 L394.55,424.87 L395.76,424.62 L396.97,424.37 L398.18,424.12 L399.39,423.87 L400.61,423.63 L401.82,423.39 L403.03,423.15 L404.24,422.91 L405.45,422.67 L406.67,422.43 L407.88,422.20 L409.09,421.97 L410.30,421.73 L411.51,421.50 L412.73,421.27 L413.94,421.04 L415.15,420.82 L416.36,420.59 L417.57,420.37 L418.79,420.14 L420.00,419.92 L421.21,419.70 L422.42,419.48 L423.63,419.26 L424.85,419.04 L426.06,418.83 L427.27,418.61 L428.48,418.40 L429.69,418.19 L430.91,417.97 L432.12,417.76 L433.33,417.55 L434.54,417.34 L435.75,417.14 L436.97,416.93 L438.18,416.72 L439.39,416.52 L440.60,416.31 L441.82,416.11 L443.03,415.91 L444.24,415.70 L445.45,415.50 L446.66,415.30 L447.88,415.10 L449.09,414.90 L450.30,414.71 L451.51,414.51 L452.72,414.31 L453.94,414.12 L455.15,413.92 L456.36,413.73 L457.57,413.53 L458.78,413.34 L460.00,413.15 L461.21,412.96 L462.42,412.77 L463.63,412.58 L464.84,412.39 L466.06,412.20 L467.27,412.01 L468.48,411.82 L469.69,411.63 L470.90,411.44 L472.12,411.26 L473.33,411.07 L474.54,410.89 L475.75,410.70 L476.96,410.52 L478.18,410.33 L479.39,410.15 L480.60,409.96 L481.81,409.78 L483.02,409.60 L484.24,409.41 L485.45,409.23 L486.66,409.05 L487.87,408.87 L489.08,408.69 L490.30,408.51 L491.51,408.33 L492.72,408.15 L493.93,407.97 L495.14,407.79 L496.36,407.61 L497.57,407.43 L498.78,407.25 L499.99,407.07 L501.20,406.89 L502.42,406.72 L503.63,406.54 L504.84,406.36 L506.05,406.18 L507.26,406.01 L508.48,405.83 L509.69,405.65 L510.90,405.48 L512.11,405.30 L513.32,405.12 L514.54,404.95 L515.75,404.77 L516.96,404.59 L518.17,404.42 L519.38,404.24 L520.60,404.07 L521.81,403.89 L523.02,403.71 L524.23,403.54 L525.45,403.36 L526.66,403.19 L527.87,403.01 L529.08,402.84 L530.29,402.66 L531.51,402.49 L532.72,402.31 L533.93,402.14 L535.14,401.96 L536.35,401.79 L537.57,401.61 L538.78,401.44 L539.99,401.26 L541.20,401.09 L542.41,400.91 L543.63,400.74 L544.84,400.56 L546.05,400.39 L547.26,400.21 L548.47,400.04 L549.69,399.86 L550.90,399.69 L552.11,399.51 L553.32,399.33 L554.53,399.16 L555.75,398.98 L556.96,398.81 L558.17,398.63 L559.38,398.46 L560.59,398.28 L561.81,398.11 L563.02,397.93 L564.23,397.75 L565.44,397.58 L566.65,397.40 L567.87,397.23 L569.08,397.05 L570.29,396.88 L571.50,396.70 L572.71,396.52 L573.93,396.35 L575.14,396.17 L576.35,395.99 L577.56,395.82 L578.77,395.64 L579.99,395.46 L581.20,395.29 L582.41,395.11 L583.62,394.93 L584.83,394.76 L586.05,394.58 L587.26,394.40 L588.47,394.23 L589.68,394.05 L590.89,393.87 L592.11,393.70 L593.32,393.52 L594.53,393.34 L595.74,393.16 L596.95,392.99 L598.17,392.81 L599.38,392.63 L600.59,392.46 L601.80,392.28 L603.02,392.10 L604.23,391.92 L605.44,391.75 L606.65,391.57 L607.86,391.39 L609.08,391.21 L610.29,391.03 L611.50,390.86 L612.71,390.68 L613.92,390.50 L615.14,390.32 L616.35,390.15 L617.56,389.97 L618.77,389.79 L619.98,389.61 L621.20,389.44 L622.41,389.26 L623.62,389.08 L624.83,388.91 L626.04,388.73 L627.26,388.55 L628.47,388.37 L629.68,388.20 L630.89,388.02 L632.10,387.84 L633.32,387.67 L634.53,387.49 L635.74,387.31 L636.95,387.14 L638.16,386.96 L639.38,386.79 L640.59,386.61 L641.80,386.43" fill="none" stroke="#ff0000" stroke-width="2.5" stroke-linejoin="round"/>
<path d="M158.20,618.27 L159.41,617.64 L160.62,617.01 L161.84,616.37 L163.05,615.74 L164.26,615.11 L165.47,614.48 L166.68,613.85 L167.90,613.22 L169.11,612.59 L170.32,611.96 L171.53,611.34 L172.74,610.71 L173.96,610.09 L175.17,609.46 L176.38,608.84 L177.59,608.22 L178.80,607.60 L180.02,606.98 L181.23,606.36 L182.44,605.74 L183.65,605.13 L184.86,604.51 L186.08,603.90 L187.29,603.29 L188.50,602.68 L189.71,602.07 L190.92,601.46 L192.14,600.85 L193.35,600.25 L194.56,599.65 L195.77,599.04 L196.98,598.44 L198.20,597.84 L199.41,597.25 L200.62,596.65 L201.83,596.06 L203.05,595.46 L204.26,594.87 L205.47,594.28 L206.68,593.70 L207.89,593.11 L209.11,592.53 L210.32,591.94 L211.53,591.36 L212.74,590.78 L213.95,590.21 L215.17,589.63 L216.38,589.06 L217.59,588.49 L218.80,587.92 L220.01,587.35 L221.23,586.78 L222.44,586.22 L223.65,585.66 L224.86,585.10 L226.07,584.54 L227.29,583.99 L228.50,583.43 L229.71,582.88 L230.92,582.33 L232.13,581.78 L233.35,581.24 L234.56,580.70 L235.77,580.15 L236.98,579.62 L238.19,579.08 L239.41,578.55 L240.62,578.01 L241.83,577.48 L243.04,576.96 L244.25,576.43 L245.47,575.91 L246.68,575.39 L247.89,574.87 L249.10,574.35 L250.31,573.84 L251.53,573.33 L252.74,572.82 L253.95,572.31 L255.16,571.81 L256.37,571.30 L257.59,570.80 L258.80,570.31 L260.01,569.81 L261.22,569.32 L262.43,568.83 L263.65,568.34 L264.86,567.86 L266.07,567.37 L267.28,566.89 L268.49,566.41 L269.71,565.94 L270.92,565.47 L272.13,565.00 L273.34,564.53 L274.55,564.06 L275.77,563.60 L276.98,563.14 L278.19,562.68 L279.40,562.23 L280.62,561.77 L281.83,561.32 L283.04,560.88 L284.25,560.43 L285.46,559.99 L286.68,559.55 L287.89,559.11 L289.10,558.68 L290.31,558.24 L291.52,557.81 L292.74,557.39 L293.95,556.96 L295.16,556.54 L296.37,556.12 L297.58,555.70 L298.80,555.29 L300.01,554.88 L301.22,554.47 L302.43,554.06 L303.64,553.66 L304.86,553.25 L306.07,552.85 L307.28,552.46 L308.49,552.06 L309.70,551.67 L310.92,551.28 L312.13,550.90 L313.34,550.51 L314.55,550.13 L315.76,549.75 L316.98,549.38 L318.19,549.00 L319.40,548.63 L320.61,548.26 L321.82,547.90 L323.04,547.54 L324.25,547.17 L325.46,546.82 L326.67,546.46 L327.88,546.11 L329.10,545.76 L330.31,545.41 L331.52,545.06 L332.73,544.72 L333.94,544.38 L335.16,544.04 L336.37,543.70 L337.58,543.37 L338.79,543.04 L340.00,542.71 L341.22,542.38 L342.43,542.06 L343.64,541.73 L344.85,541.41 L346.06,541.10 L347.28,540.78 L348.49,540.47 L349.70,540.16 L350.91,539.85 L352.12,539.55 L353.34,539.24 L354.55,538.94 L355.76,538.64 L356.97,538.35 L358.18,538.05 L359.40,537.76 L360.61,537.47 L361.82,537.18 L363.03,536.90 L364.25,536.61 L365.46,536.33 L366.67,536.05 L367.88,535.78 L369.09,535.50 L370.31,535.23 L371.52,534.96 L372.73,534.69 L373.94,534.42 L375.15,534.16 L376.37,533.90 L377.58,533.64 L378.79,533.38 L380.00,533.12 L381.21,532.87 L382.43,532.61 L383.64,532.36 L384.85,532.11 L386.06,531.86 L387.27,531.62 L388.49,531.38 L389.70,531.13 L390.91,530.89 L392.12,530.65 L393.33,530.42 L394.55,530.18 L395.76,529.95 L396.97,529.72 L398.18,529.49 L399.39,529.26 L400.61,529.03 L401.82,528.80 L403.03,528.58 L404.24,528.36 L405.45,528.14 L406.67,527.92 L407.88,527.70 L409.09,527.48 L410.30,527.27 L411.51,527.05 L412.73,526.84 L413.94,526.63 L415.15,526.42 L416.36,526.21 L417.57,526.00 L418.79,525.80 L420.00,525.59 L421.21,525.39 L422.42,525.19 L423.63,524.99 L424.85,524.79 L426.06,524.59 L427.27,524.39 L428.48,524.19 L429.69,524.00 L430.91,523.80 L432.12,523.61 L433.33,523.42 L434.54,523.23 L435.75,523.03 L436.97,522.85 L438.18,522.66 L439.39,522.47 L440.60,522.28 L441.82,522.10 L443.03,521.91 L444.24,521.73 L445.45,521.55 L446.66,521.37 L447.88,521.18 L449.09,521.00 L450.30,520.82 L451.51,520.65 L452.72,520.47 L453.94,520.29 L455.15,520.11 L456.36,519.94 L457.57,519.76 L458.78,519.59 L460.00,519.42 L461.21,519.24 L462.42,519.07 L463.63,518.90 L464.84,518.73 L466.06,518.56 L467.27,518.39 L468.48,518.22 L469.69,518.05 L470.90,517.88 L472.12,517.72 L473.33,517.55 L474.54,517.38 L475.75,517.22 L476.96,517.05 L478.18,516.89 L479.39,516.72 L480.60,516.56 L481.81,516.39 L483.02,516.23 L484.24,516.07 L485.45,515.90 L486.66,515.74 L487.87,515.58 L489.08,515.42 L490.30,515.26 L491.51,515.10 L492.72,514.94 L493.93,514.78 L495.14,514.62 L496.36,514.46 L497.57,514.30 L498.78,514.14 L499.99,513.98 L501.20,513.82 L502.42,513.67 L503.63,513.51 L504.84,513.35 L506.05,513.19 L507.26,513.04 L508.48,512.88 L509.69,512.72 L510.90,512.57 L512.11,512.41 L513.32,512.25 L514.54,512.10 L515.75,511.94 L516.96,511.78 L518.17,511.63 L519.38,511.47 L520.60,511.32 L521.81,511.16 L523.02,511.01 L524.23,510.85 L525.45,510.69 L526.66,510.54 L527.87,510.38 L529.08,510.23 L530.29,510.07 L531.51,509.92 L532.72,509.76 L533.93,509.61 L535.14,509.45 L536.35,509.30 L537.57,509.14 L538.78,508.99 L539.99,508.83 L541.20,508.68 L542.41,508.52 L543.63,508.36 L544.84,508.21 L546.05,508.05 L547.26,507.90 L548.47,507.74 L549.69,507.59 L550.90,507.43 L552.11,507.27 L553.32,507.12 L554.53,506.96 L555.75,506.81 L556.96,506.65 L558.17,506.49 L559.38,506.34 L560.59,506.18 L561.81,506.02 L563.02,505.86 L564.23,505.71 L565.44,505.55 L566.65,505.39 L567.87,505.23 L569.08,505.08 L570.29,504.92 L571.50,504.76 L572.71,504.60 L573.93,504.44 L575.14,504.28 L576.35,504.12 L577.56,503.97 L578.77,503.81 L579.99,503.65 L581.20,503.49 L582.41,503.33 L583.62,503.17 L584.83,503.01 L586.05,502.85 L587.26,502.68 L588.47,502.52 L589.68,502.36 L590.89,502.20 L592.11,502.04 L593.32,501.88 L594.53,501.72 L595.74,501.55 L596.95,501.39 L598.17,501.23 L599.38,501.06 L600.59,500.90 L601.80,500.74 L603.02,500.57 L604.23,500.41 L605.44,500.25 L606.65,500.08 L607.86,499.92 L609.08,499.75 L610.29,499.59 L611.50,499.42 L612.71,499.26 L613.92,499.09 L615.14,498.93 L616.35,498.76 L617.56,498.59 L618.77,498.43 L619.98,498.26 L621.20,498.09 L622.41,497.93 L623.62,497.76 L624.83,497.59 L626.04,497.42 L627.26,497.25 L628.47,497.09 L629.68,496.92 L630.89,496.75 L632.10,496.58 L633.32,496.41 L634.53,496.24 L635.74,496.07 L636.95,495.90 L638.16,495.73 L639.38,495.56 L640.59,495.39 L641.80,495.22" fill="none" stroke="#ff0000" stroke-width="2.5" stroke-linejoin="round"/>
<path d="M158.20,729.50 L159.41,728.83 L160.62,728.17 L161.84,727.51 L163.05,726.85 L164.26,726.19 L165.47,725.53 L166.68,724.88 L167.90,724.22 L169.11,723.57 L170.32,722.92 L171.53,722.28 L172.74,721.63 L173.96,720.99 L175.17,720.34 L176.38,719.70 L177.59,719.07 L178.80,718.43 L180.02,717.80 L181.23,717.16 L182.44,716.53 L183.65,715.90 L184.86,715.28 L186.08,714.65 L187.29,714.03 L188.50,713.41 L189.71,712.79 L190.92,712.17 L192.14,711.56 L193.35,710.95 L194.56,710.34 L195.77,709.73 L196.98,709.12 L198.20,708.52 L199.41,707.92 L200.62,707.32 L201.83,706.72 L203.05,706.12 L204.26,705.53 L205.47,704.94 L206.68,704.35 L207.89,703.76 L209.11,703.18 L210.32,702.60 L211.53,702.02 L212.74,701.44 L213.95,700.86 L215.17,700.29 L216.38,699.72 L217.59,699.15 L218.80,698.58 L220.01,698.02 L221.23,697.46 L222.44,696.90 L223.65,696.34 L224.86,695.79 L226.07,695.23 L227.29,694.68 L228.50,694.13 L229.71,693.59 L230.92,693.05 L232.13,692.51 L233.35,691.97 L234.56,691.43 L235.77,690.90 L236.98,690.37 L238.19,689.84 L239.41,689.31 L240.62,688.79 L241.83,688.27 L243.04,687.75 L244.25,687.23 L245.47,686.72 L246.68,686.20 L247.89,685.69 L249.10,685.19 L250.31,684.68 L251.53,684.18 L252.74,683.68 L253.95,683.18 L255.16,682.69 L256.37,682.20 L257.59,681.71 L258.80,681.22 L260.01,680.74 L261.22,680.25 L262.43,679.77 L263.65,679.30 L264.86,678.82 L266.07,678.35 L267.28,677.88 L268.49,677.41 L269.71,676.95 L270.92,676.48 L272.13,676.02 L273.34,675.57 L274.55,675.11 L275.77,674.66 L276.98,674.21 L278.19,673.76 L279.40,673.32 L280.62,672.87 L281.83,672.43 L283.04,672.00 L284.25,671.56 L285.46,671.13 L286.68,670.70 L287.89,670.27 L289.10,669.85 L290.31,669.42 L291.52,669.00 L292.74,668.58 L293.95,668.17 L295.16,667.76 L296.37,667.35 L297.58,666.94 L298.80,666.53 L300.01,666.13 L301.22,665.73 L302.43,665.33 L303.64,664.93 L304.86,664.54 L306.07,664.15 L307.28,663.76 L308.49,663.37 L309.70,662.99 L310.92,662.61 L312.13,662.23 L313.34,661.85 L314.55,661.48 L315.76,661.11 L316.98,660.74 L318.19,660.37 L319.40,660.00 L320.61,659.64 L321.82,659.28 L323.04,658.92 L324.25,658.57 L325.46,658.21 L326.67,657.86 L327.88,657.51 L329.10,657.17 L330.31,656.82 L331.52,656.48 L332.73,656.14 L333.94,655.80 L335.16,655.47 L336.37,655.14 L337.58,654.81 L338.79,654.48 L340.00,654.15 L341.22,653.83 L342.43,653.50 L343.64,653.18 L344.85,652.87 L346.06,652.55 L347.28,652.24 L348.49,651.93 L349.70,651.62 L350.91,651.31 L352.12,651.00 L353.34,650.70 L354.55,650.40 L355.76,650.10 L356.97,649.80 L358.18,649.51 L359.40,649.22 L360.61,648.92 L361.82,648.64 L363.03,648.35 L364.25,648.06 L365.46,647.78 L366.67,647.50 L367.88,647.22 L369.09,646.94 L370.31,646.67 L371.52,646.39 L372.73,646.12 L373.94,645.85 L375.15,645.58 L376.37,645.32 L377.58,645.05 L378.79,644.79 L380.00,644.53 L381.21,644.27 L382.43,644.01 L383.64,643.75 L384.85,643.50 L386.06,643.25 L387.27,642.99 L388.49,642.74 L389.70,642.50 L390.91,642.25 L392.12,642.00 L393.33,641.76 L394.55,641.52 L395.76,641.28 L396.97,641.04 L398.18,640.80 L399.39,640.57 L400.61,640.33 L401.82,640.10 L403.03,639.87 L404.24,639.64 L405.45,639.41 L406.67,639.18 L407.88,638.95 L409.09,638.73 L410.30,638.51 L411.51,638.28 L412.73,638.06 L413.94,637.84 L415.15,637.62 L416.36,637.41 L417.57,637.19 L418.79,636.97 L420.00,636.76 L421.21,636.55 L422.42,636.34 L423.63,636.12 L424.85,635.92 L426.06,635.71 L427.27,635.50 L428.48,635.29 L429.69,635.09 L430.91,634.88 L432.12,634.68 L433.33,634.48 L434.54,634.28 L435.75,634.08 L436.97,633.88 L438.18,633.68 L439.39,633.48 L440.60,633.28 L441.82,633.09 L443.03,632.89 L444.24,632.70 L445.45,632.51 L446.66,632.31 L447.88,632.12 L449.09,631.93 L450.30,631.74 L451.51,631.55 L452.72,631.36 L453.94,631.18 L455.15,630.99 L456.36,630.80 L457.57,630.62 L458.78,630.43 L460.00,630.25 L461.21,630.07 L462.42,629.88 L463.63,629.70 L464.84,629.52 L466.06,629.34 L467.27,629.16 L468.48,628.98 L469.69,628.80 L470.90,628.62 L472.12,628.45 L473.33,628.27 L474.54,628.09 L475.75,627.92 L476.96,627.74 L478.18,627.57 L479.39,627.39 L480.60,627.22 L481.81,627.04 L483.02,626.87 L484.24,626.70 L485.45,626.53 L486.66,626.35 L487.87,626.18 L489.08,626.01 L490.30,625.84 L491.51,625.67 L492.72,625.50 L493.93,625.33 L495.14,625.16 L496.36,625.00 L497.57,624.83 L498.78,624.66 L499.99,624.49 L501.20,624.33 L502.42,624.16 L503.63,623.99 L504.84,623.83 L506.05,623.66 L507.26,623.50 L508.48,623.33 L509.69,623.17 L510.90,623.00 L512.11,622.84 L513.32,622.67 L514.54,622.51 L515.75,622.35 L516.96,622.18 L518.17,622.02 L519.38,621.86 L520.60,621.69 L521.81,621.53 L523.02,621.37 L524.23,621.21 L525.45,621.05 L526.66,620.89 L527.87,620.72 L529.08,620.56 L530.29,620.40 L531.51,620.24 L532.72,620.08 L533.93,619.92 L535.14,619.76 L536.35,619.60 L537.57,619.44 L538.78,619.28 L539.99,619.12 L541.20,618.96 L542.41,618.80 L543.63,618.64 L544.84,618.48 L546.05,618.32 L547.26,618.16 L548.47,618.01 L549.69,617.85 L550.90,617.69 L552.11,617.53 L553.32,617.37 L554.53,617.21 L555.75,617.05 L556.96,616.90 L558.17,616.74 L559.38,616.58 L560.59,616.42 L561.81,616.26 L563.02,616.10 L564.23,615.95 L565.44,615.79 L566.65,615.63 L567.87,615.47 L569.08,615.32 L570.29,615.16 L571.50,615.00 L572.71,614.84 L573.93,614.69 L575.14,614.53 L576.35,614.37 L577.56,614.21 L578.77,614.06 L579.99,613.90 L581.20,613.74 L582.41,613.58 L583.62,613.43 L584.83,613.27 L586.05,613.11 L587.26,612.96 L588.47,612.80 L589.68,612.64 L590.89,612.48 L592.11,612.33 L593.32,612.17 L594.53,612.01 L595.74,611.86 L596.95,611.70 L598.17,611.54 L599.38,611.39 L600.59,611.23 L601.80,611.07 L603.02,610.92 L604.23,610.76 L605.44,610.60 L606.65,610.45 L607.86,610.29 L609.08,610.13 L610.29,609.98 L611.50,609.82 L612.71,609.67 L613.92,609.51 L615.14,609.35 L616.35,609.20 L617.56,609.04 L618.77,608.89 L619.98,608.73 L621.20,608.57 L622.41,608.42 L623.62,608.26 L624.83,608.11 L626.04,607.95 L627.26,607.80 L628.47,607.64 L629.68,607.49 L630.89,607.33 L632.10,607.18 L633.32,607.02 L634.53,606.87 L635.74,606.71 L636.95,606.56 L638.16,606.40 L639.38,606.25 L640.59,606.09 L641.80,605.94" fill="none" stroke="#ff0000" stroke-width="2.5" stroke-linejoin="round"/>
</g>
<text transform="translate(109.60,316.20) scale(1.0667,1.0215)" font-size="24.5" fill="#000" stroke="#000" stroke-width="0.422">100</text>
<text transform="translate(123.30,427.60) scale(1.0490,1.0215)" font-size="24.5" fill="#000" stroke="#000" stroke-width="0.429">10</text>
<text transform="translate(137.20,539.40) scale(0.9306,1.0295)" font-size="24.5" fill="#000" stroke="#000" stroke-width="0.437">1</text>
<text transform="translate(117.80,650.80) scale(1.0188,1.0215)" font-size="24.5" fill="#000" stroke="#000" stroke-width="0.441">0.1</text>
<text transform="translate(104.50,762.50) scale(1.0379,1.0215)" font-size="24.5" fill="#000" stroke="#000" stroke-width="0.434">0.01</text>
<text transform="translate(143.70,785.10) scale(1.0024,1.0215)" font-size="24.5" fill="#000" stroke="#000" stroke-width="0.441">0.1</text>
<text transform="translate(240.50,785.10) scale(0.9959,1.0215)" font-size="24.5" fill="#000" stroke="#000" stroke-width="0.441">0.2</text>
<text transform="translate(336.90,785.10) scale(0.9437,1.0215)" font-size="24.5" fill="#000" stroke="#000" stroke-width="0.441">0.3</text>
<text transform="translate(433.30,785.10) scale(0.9992,1.0215)" font-size="24.5" fill="#000" stroke="#000" stroke-width="0.441">0.4</text>
<text transform="translate(528.50,785.10) scale(1.0024,1.0215)" font-size="24.5" fill="#000" stroke="#000" stroke-width="0.441">0.5</text>
<text transform="translate(625.00,785.10) scale(0.9829,1.0215)" font-size="24.5" fill="#000" stroke="#000" stroke-width="0.441">0.6</text>
<path d="M175.6,337.5H235.8" stroke="#000" stroke-width="2.3"/>
<path d="M175.6,369.4H235.8" stroke="#0000ff" stroke-width="1.3"/>
<path d="M176.9,401.3H184.9M197.1,401.3H205.1M217.2,401.3H225.5" stroke="#0000ff" stroke-width="2.9" stroke-linecap="round"/>
<path d="M177,433.2H184.6M190.5,433.2H190.8M197,433.2H204.4M210.5,433.2H210.8M216.7,433.2H224.1M230.4,433.2H230.7" stroke="#ff00ff" stroke-width="2.4" stroke-linecap="round"/>
<text transform="translate(241.20,346.30) scale(1.0365,1.0000)" font-size="25" fill="#000" stroke="#000" stroke-width="0.434">2bf+3bf</text>
<text transform="translate(240.90,378.30) scale(1.0315,1.0000)" font-size="25" fill="#000" stroke="#000" stroke-width="0.436">free</text>
<text transform="translate(240.90,410.50) scale(1.0144,1.0000)" font-size="25" fill="#000" stroke="#000" stroke-width="0.444">free+m*</text>
<text transform="translate(241.30,442.10) scale(1.0487,1.0000)" font-size="25" fill="#000" stroke="#000" stroke-width="0.429">2bf</text>
<text transform="translate(387.30,348.50) scale(1.0313,1.1818)" font-size="25" fill="#000" stroke="#000" stroke-width="0.381">BSM</text>
<text transform="translate(529.50,393.40) scale(0.9489,1.0029)" font-size="26" fill="#ff0000" stroke="#ff0000" stroke-width="0.150">eμ 9</text>
<text transform="translate(529.50,500.60) scale(0.9489,0.9971)" font-size="26" fill="#ff0000" stroke="#ff0000" stroke-width="0.150">eμ 8</text>
<text transform="translate(530.50,609.90) scale(0.9378,1.0059)" font-size="26" fill="#ff0000" stroke="#ff0000" stroke-width="0.149">eμ 7</text>
<text transform="translate(344.58,824.30) scale(1.1175,0.9448)" font-size="31" font-style="italic" fill="#000" stroke="#000" stroke-width="0.089">ρ</text>
<path d="M371.1,803.3H377.2V804.6999999999999H373.5V828.4H377.2V829.8H371.1Z" fill="#000"/>
<text transform="translate(378.40,824.00) scale(1.0538,1.0000)" font-size="28" fill="#000" stroke="#000" stroke-width="0.427">fm</text>
<text transform="translate(412.40,807.70) scale(0.9964,0.9379)" font-size="16.5" fill="#000" stroke="#000" stroke-width="0.452">-3</text>
<path d="M434.9,803.3H428.6V804.6999999999999H432.5V828.4H428.6V829.8H434.9Z" fill="#000"/>
<g transform="translate(91.1,655) rotate(-90)">
<text transform="translate(0.00,0.00) scale(0.9898,0.9891)" font-size="30" font-style="italic" fill="#000" stroke="#000" stroke-width="0.455">κ</text>
<text transform="translate(15.60,0.00) scale(0.8649,1.0089)" font-size="30" font-style="italic" fill="#000" stroke="#000" stroke-width="0.446">T</text>
<path d="M44.7,-22.7H51.0V-21.2H47.400000000000006V4.7H51.0V6.2H44.7Z" fill="#000"/>
<text transform="translate(54.20,0.00) scale(0.9833,0.9900)" font-size="30" fill="#000" stroke="#000" stroke-width="0.455">10</text>
<text transform="translate(85.80,-14.00) scale(0.9943,0.9720)" font-size="17.5" fill="#000" stroke="#000" stroke-width="0.453">30</text>
<text transform="translate(110.20,0.00) scale(1.0967,1.0000)" font-size="30" fill="#000" stroke="#000" stroke-width="0.410">erg</text>
<text transform="translate(160.30,0.00) scale(0.9311,0.9841)" font-size="30" fill="#000" stroke="#000" stroke-width="0.457">cm</text>
<text transform="translate(197.80,-14.00) scale(1.1350,0.9826)" font-size="17.5" fill="#000" stroke="#000" stroke-width="0.396">-1</text>
<text transform="translate(213.50,0.00) scale(1.0581,0.9841)" font-size="30" fill="#000" stroke="#000" stroke-width="0.425">s</text>
<text transform="translate(227.50,-14.00) scale(1.0393,0.9826)" font-size="17.5" fill="#000" stroke="#000" stroke-width="0.433">-1</text>
<path d="M248.4,-22.7H242.0V-21.2H245.70000000000002V4.7H242.0V6.2H248.4Z" fill="#000"/>
</g>
</svg>
</body></html>
